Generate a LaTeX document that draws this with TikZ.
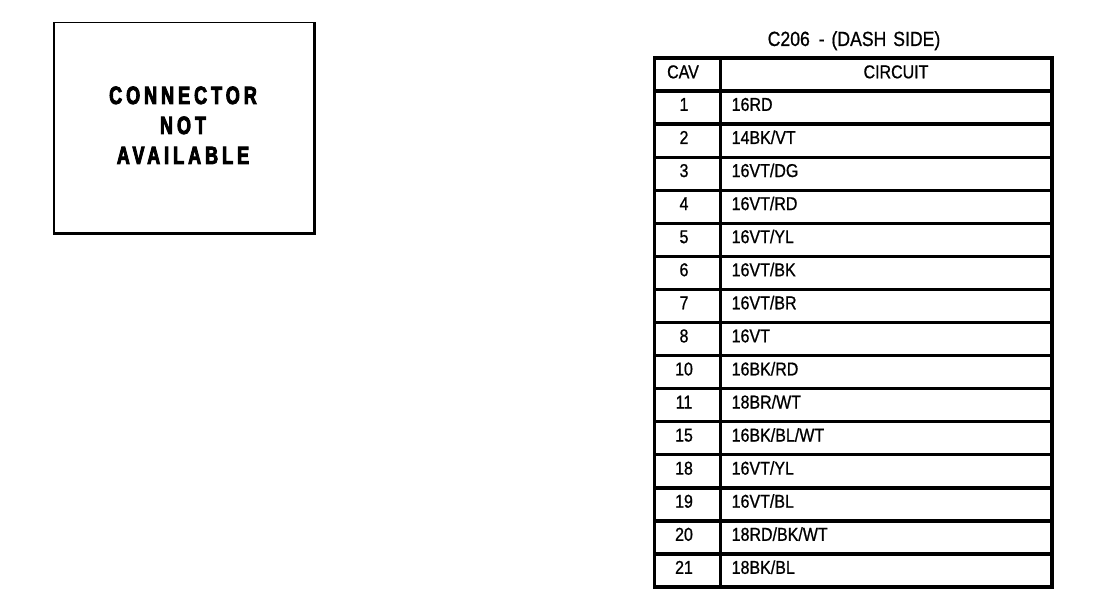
\documentclass[tikz,border=0pt]{standalone}
\usepackage{fontspec}
\setmainfont{Liberation Sans}
\newfontfamily\tabfont[FakeStretch=0.86,FakeBold=0.8]{Liberation Sans}
\newfontfamily\boxfont[FakeStretch=0.72,LetterSpace=16,FakeBold=3.5]{Liberation Sans}
\begin{document}
\begin{tikzpicture}[x=1pt,y=-1pt,
  cell/.style={draw,line width=3.3pt,rectangle,inner sep=0pt,minimum height=33.07pt},
  cavcell/.style={cell,minimum width=66pt},
  circell/.style={cell,minimum width=331.3pt},
  ttext/.style={font=\tabfont\fontsize{18.6}{20}\selectfont,inner sep=0pt},
  titletext/.style={font=\tabfont\fontsize{20.5}{22}\selectfont,inner sep=0pt},
  bigtext/.style={font=\boxfont\bfseries\fontsize{25}{30}\selectfont,inner sep=0pt,align=center}]
\useasboundingbox (0,0) rectangle (1120,604);
% left box
\node[draw,line width=1.3pt,rectangle,inner sep=0pt,minimum width=260pt,minimum height=210pt] (nabox) at (184,127.7) {};
\draw[line width=2.5pt] (nabox.north east) -- (nabox.south east) -- (nabox.south west);
\node[bigtext,anchor=base] (l1) at (183,104) {CONNECTOR};
\node[bigtext,anchor=base] (l2) at (183,134) {NOT};
\node[bigtext,anchor=base] (l3) at (183,164) {AVAILABLE};
% title
\node[titletext,anchor=base] (title) at (854,46) {C206\hspace{4pt} - \hspace{2pt}(DASH\hspace{2pt} SIDE)};
% header
\node[cavcell,anchor=north west] (hcav) at (653,56.3) {};
\node[circell,anchor=north west] (hcir) at (719,56.3) {};
\node[ttext,anchor=base] (hcavt) at (683,78.3) {CAV};
\node[ttext,anchor=base] (hcirt) at (896,78.3) {CIRCUIT};
% rows
\foreach \c/\w [count=\i] in {1/{16RD},2/{14BK/VT},3/{16VT/DG},4/{16VT/RD},5/{16VT/YL},6/{16VT/BK},7/{16VT/BR},8/{16VT},10/{16BK/RD},11/{18BR/WT},15/{16BK/BL/WT},18/{16VT/YL},19/{16VT/BL},20/{18RD/BK/WT},21/{18BK/BL}}{
  \pgfmathsetmacro\ty{56.3+33.07*\i}
  \node[cavcell,anchor=north west] (cav\i) at (653,\ty) {};
  \node[circell,anchor=north west] (cir\i) at (719,\ty) {};
  \node[ttext,anchor=base] (cavt\i) at (684,\ty+21.5) {\c};
  \node[ttext,anchor=base west] (cirt\i) at (731.5,\ty+21.5) {\w};
}
\end{tikzpicture}
\end{document}
